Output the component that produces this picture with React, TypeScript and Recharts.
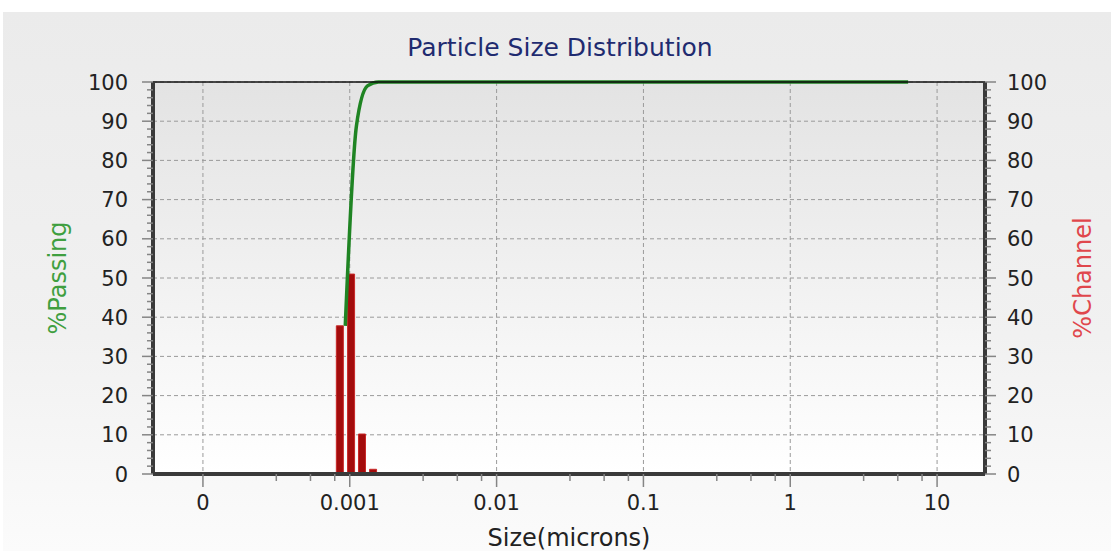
import { ComposedChart, Bar, Line, XAxis, YAxis, CartesianGrid, ReferenceLine } from "recharts";

// channel midpoints (microns) and the % of material in each channel
const channelSizes = [0.000855, 0.00102, 0.00121, 0.00144];
const channelPct = [37.8, 51, 10.2, 1.2];

// cumulative % passing, taken at the upper edge of each channel
const passingSizes = [0.000932, 0.00111, 0.00132, 0.00157, 6.35];
const passingPct = [37.8, 88.8, 99, 100, 100];

// log axis: labelled decades plus the unlabelled minor marks
const majorSizes = [0.0001, 0.001, 0.01, 0.1, 1, 10];
const minorSizes = [
  0.000316, 0.00054, 0.00079,
  0.00316, 0.0054, 0.0079,
  0.0316, 0.054, 0.079,
  0.316, 0.54, 0.79,
  3.16, 5.4, 7.9,
];
const sizeDomain = [0.0000457, 21.2];

const majorPct = [0, 10, 20, 30, 40, 50, 60, 70, 80, 90, 100];
const minorPct = majorPct.flatMap((v) => [v + 2, v + 4, v + 6, v + 8]).filter((v) => v < 100);

const channelRows = channelSizes.map((size, i) => ({ size, channel: channelPct[i] }));
const passingRows = passingSizes.map((size, i) => ({ size, passing: passingPct[i] }));

const FONT = "'DejaVu Sans', Verdana, sans-serif";
const TICK_FS = 21;
const TITLE_FS = 24;
const TICK_COLOR = "#858585";
const AXIS_COLOR = "#3a3a3a";

const sizeLabel = (v: number) => (v === 0.0001 ? "0" : String(v));

// bottom ticks: long mark + label on decades, short mark elsewhere
function SizeTick({ x, y, payload }: any) {
  const v = payload.value;
  const major = majorSizes.includes(v);
  const axisY = y - 12 - 9;
  return (
    <g>
      <line x1={x} x2={x} y1={axisY} y2={axisY + (major ? 13 : 7)} stroke={TICK_COLOR} strokeWidth={1.5} />
      {major && (
        <text x={x} y={y} dy="0.71em" textAnchor="middle" fill="#222" fontSize={TICK_FS}>
          {sizeLabel(v)}
        </text>
      )}
    </g>
  );
}

// side ticks for both percentage axes
function PctTick({ x, y, payload, side }: any) {
  const v = payload.value;
  const major = v % 10 === 0;
  const len = major ? 11 : 6;
  const left = side === "left";
  const axisX = left ? x + 14 + 11 : x - 11 - 11;
  const x2 = left ? axisX - len : axisX + len;
  return (
    <g>
      <line x1={axisX} x2={x2} y1={y} y2={y} stroke={TICK_COLOR} strokeWidth={1.5} />
      {major && (
        <text x={x} y={y} dy="0.36em" textAnchor={left ? "end" : "start"} fill="#222" fontSize={TICK_FS}>
          {v}
        </text>
      )}
    </g>
  );
}

export default function App() {
  return (
    <div
      style={{
        position: "absolute",
        top: 0,
        left: 0,
        width: 1111,
        height: 551,
        background: "#ffffff",
        fontFamily: FONT,
      }}
    >
      <div
        style={{
          position: "absolute",
          top: 12,
          left: 3,
          right: 0,
          bottom: 0,
          background: "linear-gradient(to bottom, #ebebeb 0%, #f1f1f1 60%, #fbfbfb 100%)",
        }}
      />
      <div
        style={{
          position: "absolute",
          top: 33,
          left: 0,
          width: 1120,
          textAlign: "center",
          color: "#1f2b70",
          fontSize: 25,
          lineHeight: "29px",
        }}
      >
        Particle Size Distribution
      </div>
      <div style={{ position: "absolute", top: 0, left: 0 }}>
        <ComposedChart
          width={1111}
          height={551}
          data={channelRows}
          margin={{ top: 82, right: 0, bottom: 0, left: 0 }}
        >
          <defs>
            <linearGradient id="plotFill" x1="0" y1="0" x2="0" y2="1">
              <stop offset="0%" stopColor="#e3e3e3" />
              <stop offset="100%" stopColor="#ffffff" />
            </linearGradient>
          </defs>
          <CartesianGrid
            xAxisId="size"
            yAxisId="passing"
            fill="url(#plotFill)"
            fillOpacity={1}
            stroke="#9a9a9a"
            strokeDasharray="4 3"
            verticalValues={majorSizes}
            horizontalValues={majorPct}
          />
          <XAxis
            xAxisId="size"
            type="number"
            dataKey="size"
            scale="log"
            domain={sizeDomain}
            allowDataOverflow
            ticks={[...majorSizes, ...minorSizes].sort((a, b) => a - b)}
            interval={0}
            tickSize={12}
            tickMargin={9}
            tickLine={false}
            tick={(p: any) => <SizeTick {...p} />}
            axisLine={{ stroke: AXIS_COLOR, strokeWidth: 4 }}
            height={77}
            label={{ value: "Size(microns)", position: "insideBottom", offset: 5, fill: "#222", fontSize: TITLE_FS }}
          />
          <XAxis
            xAxisId="bars"
            type="number"
            dataKey="size"
            scale="log"
            domain={sizeDomain}
            allowDataOverflow
            height={0}
            hide
          />
          <YAxis
            yAxisId="passing"
            type="number"
            domain={[0, 100]}
            ticks={[...majorPct, ...minorPct].sort((a, b) => a - b)}
            interval={0}
            width={153}
            tickSize={11}
            tickMargin={14}
            tickLine={false}
            tick={(p: any) => <PctTick {...p} side="left" />}
            axisLine={{ stroke: AXIS_COLOR, strokeWidth: 4 }}
            label={{
              value: "%Passing",
              angle: -90,
              position: "insideLeft",
              offset: 57,
              fill: "#3f9f3f",
              fontSize: TITLE_FS,
              style: { textAnchor: "middle" },
            }}
          />
          <YAxis
            yAxisId="channel"
            orientation="right"
            type="number"
            domain={[0, 100]}
            ticks={[...majorPct, ...minorPct].sort((a, b) => a - b)}
            interval={0}
            width={126}
            tickSize={11}
            tickMargin={11}
            tickLine={false}
            tick={(p: any) => <PctTick {...p} side="right" />}
            axisLine={{ stroke: AXIS_COLOR, strokeWidth: 4 }}
            label={{
              value: "%Channel",
              angle: -90,
              position: "insideRight",
              offset: 29,
              fill: "#e0474c",
              fontSize: TITLE_FS,
              style: { textAnchor: "middle" },
            }}
          />
          <Bar
            xAxisId="bars"
            yAxisId="channel"
            dataKey="channel"
            barSize={7}
            fill="#a30c0c"
            stroke="#c82828"
            strokeWidth={1}
            isAnimationActive={false}
          />
          <Line
            xAxisId="size"
            yAxisId="passing"
            data={passingRows}
            dataKey="passing"
            type="monotone"
            stroke="#1f8423"
            strokeWidth={3.5}
            dot={false}
            activeDot={false}
            isAnimationActive={false}
          />
          <ReferenceLine xAxisId="size" yAxisId="passing" y={100} stroke="#111" strokeWidth={1.5} />
        </ComposedChart>
      </div>
    </div>
  );
}
